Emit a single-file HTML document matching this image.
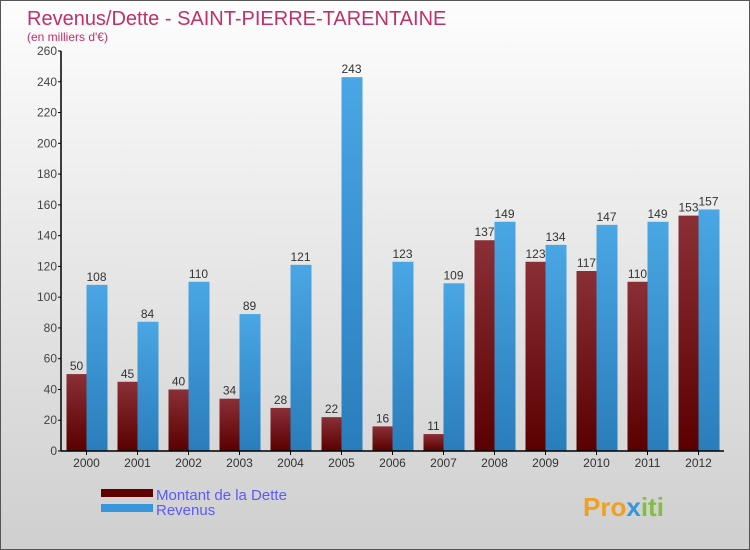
<!DOCTYPE html>
<html><head><meta charset="utf-8"><style>
body{margin:0}
#c{width:750px;height:550px;position:relative;overflow:hidden;font-family:"Liberation Sans",sans-serif;background:linear-gradient(#fdfdfd,#cfcfcf);box-sizing:border-box;border:1px solid #555}
</style></head><body>
<div id="c">
<svg id="s" width="750" height="550" style="position:absolute;left:0;top:0">
<defs>
<linearGradient id="gd" x1="0" y1="0" x2="0" y2="1"><stop offset="0" stop-color="#8a2f36"/><stop offset="1" stop-color="#5a0000"/></linearGradient>
<linearGradient id="gr" x1="0" y1="0" x2="0" y2="1"><stop offset="0" stop-color="#4aa6e4"/><stop offset="1" stop-color="#2a7dbb"/></linearGradient>
</defs>
<text x="26" y="24" font-size="20" fill="#c0306a">Revenus/Dette - SAINT-PIERRE-TARENTAINE</text>
<text x="26" y="40" font-size="12" fill="#c0306a">(en milliers d'€)</text>
<g id="plot"></g>
<rect x="100" y="488" width="52" height="8" fill="#600000"/>
<text x="155" y="499" font-size="15" fill="#5a5aff">Montant de la Dette</text>
<rect x="100" y="503" width="52" height="8" fill="#3a96dc"/>
<text x="155" y="514" font-size="15" fill="#5a5aff">Revenus</text>
<text x="582" y="515" font-size="26" font-weight="bold" fill="#f0a020">Pro<tspan fill="#3a96dc">x</tspan><tspan fill="#80c040">iti</tspan></text>
</svg>
</div>
<script>
const years=["2000","2001","2002","2003","2004","2005","2006","2007","2008","2009","2010","2011","2012"];
const dette=[50,45,40,34,28,22,16,11,137,123,117,110,153];
const revenus=[108,84,110,89,121,243,123,109,149,134,147,149,157];
const ticks=[0,20,40,60,80,100,120,140,160,180,200,220,240,260];
const X0=60,Y0=450,H=400,MAX=260,BW=51;
const y=v=>Y0-v/MAX*H;
const xb=i=>X0+i*BW;
const NS="http://www.w3.org/2000/svg";
const g=document.getElementById('plot');
function mk(t,a,txt){const e=document.createElementNS(NS,t);for(const k in a)e.setAttribute(k,a[k]);if(txt!==undefined)e.textContent=txt;g.appendChild(e);return e;}
ticks.forEach(t=>{
 const l=mk('line',{x1:X0-3,x2:X0,y1:y(t),y2:y(t),stroke:'#000'});
 
 
 const tx=mk('text',{x:X0-4,y:y(t)+4,'font-size':12,fill:'#444','text-anchor':'end'},String(t));
 
 
});
years.forEach((yr,i)=>{
 const c=xb(i)+BW/2;
 const b1=mk('rect',{x:c-20,y:y(dette[i]),width:20,height:Y0-y(dette[i]),fill:'url(#gd)'});
 
 
 const b2=mk('rect',{x:c,y:y(revenus[i]),width:21,height:Y0-y(revenus[i]),fill:'url(#gr)'});
 
 
 const v1=mk('text',{x:c-10,y:y(dette[i])-4,'font-size':12,fill:'#333','text-anchor':'middle'},String(dette[i]));
 
 
 const v2=mk('text',{x:c+10,y:y(revenus[i])-4,'font-size':12,fill:'#333','text-anchor':'middle'},String(revenus[i]));
 
 
 const tk=mk('line',{x1:c,x2:c,y1:Y0,y2:Y0+4,stroke:'#000'});
 
 
 const xl=mk('text',{x:c,y:Y0+16,'font-size':12,fill:'#333','text-anchor':'middle'},yr);
 
 
});
const ax=mk('line',{x1:X0,x2:X0,y1:y(260),y2:Y0,stroke:'#000','stroke-width':1.5});


const bx=mk('line',{x1:X0,x2:X0+13*BW,y1:Y0,y2:Y0,stroke:'#000','stroke-width':1.5});


</script>
</body></html>
